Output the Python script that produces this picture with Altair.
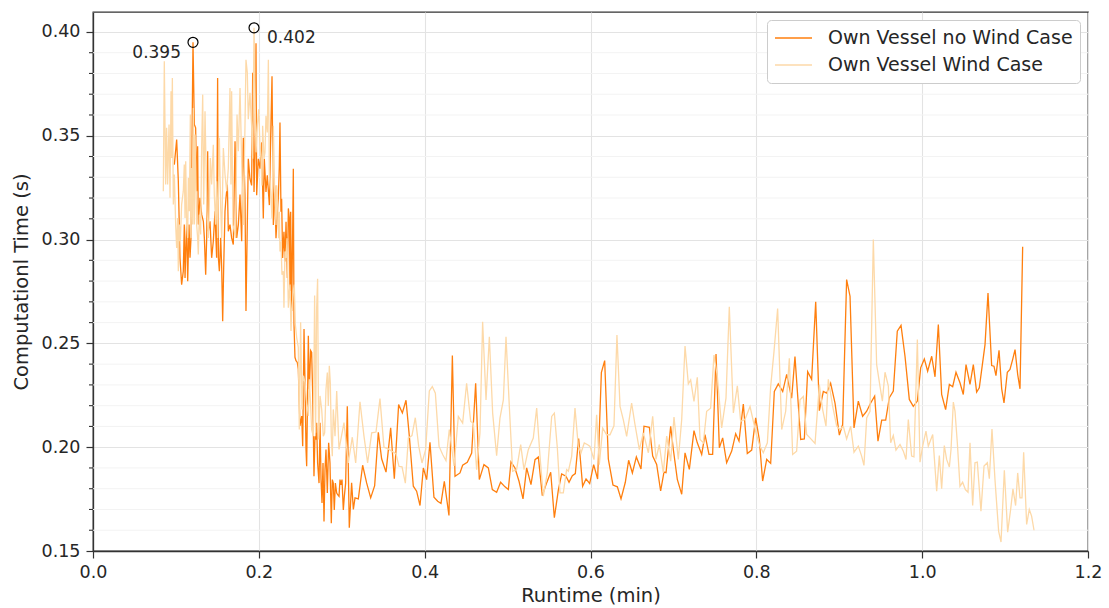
import altair as alt
import pandas as pd

NW = "Own Vessel no Wind Case"
WD = "Own Vessel Wind Case"

# ---- Own Vessel no Wind Case (runtime in min, computational time in s)
nw_x = [
    0.0981, 0.1009, 0.1029, 0.1049, 0.1069, 0.1089, 0.1101, 0.1110, 0.1130, 0.1142,
    0.1158, 0.1170, 0.1182, 0.1198, 0.1206, 0.1222, 0.1238, 0.1250, 0.1262, 0.1270,
    0.1290, 0.1311, 0.1331, 0.1343, 0.1359, 0.1371, 0.1383, 0.1391, 0.1411, 0.1431,
    0.1451, 0.1471, 0.1491, 0.1503, 0.1512, 0.1524, 0.1540, 0.1552, 0.1564, 0.1576,
    0.1592, 0.1604, 0.1620, 0.1632, 0.1652, 0.1672, 0.1692, 0.1713, 0.1733, 0.1753,
    0.1773, 0.1793, 0.1813,
    0.1833, 0.1845, 0.1873, 0.1893, 0.1913, 0.1926, 0.1942, 0.1954, 0.1966, 0.1974,
    0.1994, 0.2014, 0.2034, 0.2054, 0.2066, 0.2086, 0.2102, 0.2127, 0.2143, 0.2159,
    0.2175, 0.2191, 0.2207, 0.2223, 0.2235, 0.2247, 0.2255, 0.2267, 0.2275, 0.2287,
    0.2303, 0.2315, 0.2328, 0.2344, 0.2356, 0.2368, 0.2376, 0.2384, 0.2396, 0.2408,
    0.2416, 0.2424, 0.2436, 0.2448,
    0.2464, 0.2476, 0.2496, 0.2517, 0.2529, 0.2545, 0.2557, 0.2569, 0.2577, 0.2597,
    0.2609, 0.2625, 0.2637, 0.2649, 0.2657, 0.2665, 0.2677, 0.2689, 0.2697, 0.2709,
    0.2726, 0.2738, 0.2750, 0.2762, 0.2774, 0.2786, 0.2798, 0.2810, 0.2826, 0.2842,
    0.2858, 0.2874, 0.2886, 0.2898, 0.2910, 0.2923, 0.2939, 0.2951, 0.2967, 0.2979,
    0.2991, 0.3003, 0.3019, 0.3031, 0.3047,
    0.3067, 0.3091, 0.3119, 0.3140, 0.3160, 0.3200, 0.3252, 0.3300, 0.3349, 0.3397,
    0.3441, 0.3481, 0.3534, 0.3590, 0.3634, 0.3686, 0.3731, 0.3775, 0.3815, 0.3863,
    0.3903, 0.3944, 0.3984, 0.4024, 0.4064, 0.4112, 0.4157, 0.4197, 0.4237, 0.4293,
    0.4334,
    0.4366, 0.4426, 0.4458, 0.4514, 0.4567, 0.4615, 0.4659, 0.4715, 0.4768, 0.4816,
    0.4868, 0.4916, 0.4969, 0.5009, 0.5041, 0.5089, 0.5138, 0.5186, 0.5230, 0.5282,
    0.5331, 0.5371, 0.5419, 0.5471, 0.5520, 0.5564, 0.5612, 0.5652, 0.5704, 0.5741,
    0.5781, 0.5817, 0.5857, 0.5905, 0.5946, 0.5990, 0.6038, 0.6086, 0.6131, 0.6171,
    0.6215, 0.6271, 0.6324, 0.6368, 0.6420, 0.6460, 0.6505, 0.6553, 0.6609,
    0.6645, 0.6710, 0.6750, 0.6798, 0.6846, 0.6886, 0.6911, 0.6967, 0.6999, 0.7047,
    0.7100, 0.7140, 0.7192, 0.7248, 0.7288, 0.7341, 0.7381, 0.7429, 0.7473, 0.7514,
    0.7554, 0.7594, 0.7642, 0.7703, 0.7751, 0.7791, 0.7843, 0.7891, 0.7944, 0.7992,
    0.8036, 0.8076, 0.8125, 0.8173, 0.8217, 0.8265, 0.8318, 0.8366, 0.8426, 0.8466,
    0.8535, 0.8579, 0.8619, 0.8667, 0.8716, 0.8760, 0.8808, 0.8848, 0.8896, 0.8949,
    0.9001, 0.9041,
    0.9089, 0.9130, 0.9178, 0.9230, 0.9282, 0.9331, 0.9379, 0.9427, 0.9467, 0.9512,
    0.9560, 0.9604, 0.9652, 0.9700, 0.9745, 0.9793, 0.9845, 0.9893, 0.9942, 0.9982,
    1.0026, 1.0066, 1.0115, 1.0155, 1.0195, 1.0235, 1.0283, 1.0328, 1.0368, 1.0408,
    1.0456, 1.0496, 1.0529, 1.0577, 1.0617, 1.0657, 1.0689, 1.0758, 1.0794, 1.0838,
    1.0866, 1.0890, 1.0927, 1.0959, 1.0987, 1.1027, 1.1059, 1.1091, 1.1120, 1.1152,
    1.1180, 1.1212,
]
nw_y = [
    0.3361, 0.3482, 0.3281, 0.2912, 0.2783, 0.2848, 0.3072, 0.2815, 0.3088, 0.2799,
    0.3072, 0.2912, 0.3008, 0.3634, 0.3950, 0.3554, 0.3538, 0.3233, 0.3449, 0.3072,
    0.3201, 0.3120, 0.3088, 0.3008, 0.2831, 0.3008, 0.3425, 0.3040, 0.3088, 0.2912,
    0.2992, 0.3136, 0.2912, 0.3778, 0.2912, 0.2848, 0.3008, 0.2864, 0.2607, 0.2864,
    0.3136, 0.3201, 0.3265, 0.3040, 0.3072, 0.3008, 0.2976, 0.3474, 0.3008, 0.3072,
    0.3217, 0.2992, 0.3490,
    0.3213, 0.2656, 0.3389, 0.3293, 0.3261, 0.3803, 0.3229, 0.3420, 0.3946, 0.3213,
    0.3389, 0.3341, 0.3468, 0.3102, 0.3389, 0.3229, 0.3309, 0.3166, 0.3500, 0.3787,
    0.3070, 0.3261, 0.3006, 0.3134, 0.3197, 0.3357, 0.3564, 0.3134, 0.3197, 0.2911,
    0.3038, 0.2895, 0.3086, 0.2815, 0.3150, 0.3102, 0.2752, 0.3134, 0.2656, 0.3038,
    0.3341, 0.2592, 0.2433, 0.2417,
    0.2408, 0.2376, 0.2102, 0.2150, 0.2005, 0.2569, 0.2311, 0.1989, 0.1908, 0.2537,
    0.2279, 0.2465, 0.2456, 0.2263, 0.2085, 0.1860, 0.2053, 0.2037, 0.2118, 0.1924,
    0.1827, 0.2118, 0.1844, 0.1731, 0.1924, 0.1642, 0.1892, 0.1989, 0.1779, 0.2021,
    0.1924, 0.1634, 0.1844, 0.1827, 0.1698, 0.1827, 0.1779, 0.1771, 0.1763, 0.1844,
    0.1819, 0.1844, 0.1698, 0.1763, 0.1827,
    0.2197, 0.1612, 0.1828, 0.1700, 0.1756, 0.1751, 0.1913, 0.1828, 0.1756, 0.1815,
    0.2072, 0.1944, 0.1880, 0.2093, 0.1848, 0.2205, 0.2165, 0.2226, 0.2053, 0.1812,
    0.1788, 0.1719, 0.1900, 0.1844, 0.2024, 0.1759, 0.1740, 0.1729, 0.1836, 0.1671,
    0.2441,
    0.1860, 0.1876, 0.1913, 0.1927, 0.1972, 0.2308, 0.1844, 0.1916, 0.1900, 0.1796,
    0.1783, 0.1831, 0.1809, 0.1796, 0.1929, 0.1900, 0.1836, 0.1751, 0.1900, 0.1820,
    0.1940, 0.1953, 0.1767, 0.1828, 0.1879, 0.1660, 0.1793, 0.1871, 0.1860, 0.1831,
    0.1863, 0.1873, 0.2042, 0.1812, 0.1847, 0.1825, 0.1916, 0.1847, 0.2359, 0.2417,
    0.1943, 0.1818, 0.1809, 0.1751, 0.1831, 0.1937, 0.1876, 0.1953, 0.1895,
    0.2101, 0.2096, 0.1957, 0.1917, 0.1789, 0.1880, 0.1877, 0.2101, 0.1989, 0.1845,
    0.1773, 0.1973, 0.1893, 0.2080, 0.2021, 0.1965, 0.2061, 0.1965, 0.1965, 0.2449,
    0.1997, 0.2045, 0.1925, 0.1981, 0.2065, 0.2029, 0.2208, 0.1970, 0.1986, 0.2141,
    0.2037, 0.1837, 0.1941, 0.1922, 0.2268, 0.2305, 0.2268, 0.2351, 0.2236, 0.2436,
    0.2037, 0.2040, 0.2364, 0.2327, 0.2700, 0.2176, 0.2268, 0.2260, 0.2308, 0.2212,
    0.2058, 0.2109,
    0.2807, 0.2727, 0.2093, 0.2222, 0.2149, 0.2173, 0.2213, 0.2246, 0.2029, 0.2130,
    0.2130, 0.2238, 0.2270, 0.2559, 0.2587, 0.2438, 0.2230, 0.2197, 0.2222, 0.2382,
    0.2425, 0.2366, 0.2438, 0.2339, 0.2591, 0.2254, 0.2181, 0.2302, 0.2291, 0.2361,
    0.2310, 0.2254, 0.2398, 0.2302, 0.2398, 0.2265, 0.2286, 0.2494, 0.2743, 0.2393,
    0.2390, 0.2345, 0.2467, 0.2281, 0.2213, 0.2361, 0.2374, 0.2422, 0.2470, 0.2350,
    0.2281, 0.2965,
]

# ---- Own Vessel Wind Case
wd_x = [
    0.0848, 0.0860, 0.0876, 0.0888, 0.0900, 0.0917, 0.0929, 0.0941, 0.0949, 0.0957,
    0.0969, 0.0981, 0.0997, 0.1009, 0.1021, 0.1029, 0.1041, 0.1053, 0.1069, 0.1089,
    0.1101, 0.1110, 0.1118, 0.1130, 0.1142, 0.1150, 0.1162, 0.1174, 0.1182, 0.1190,
    0.1202, 0.1210, 0.1222, 0.1230, 0.1238, 0.1250, 0.1262, 0.1270, 0.1282, 0.1298,
    0.1311, 0.1323, 0.1335, 0.1351, 0.1363, 0.1375, 0.1391, 0.1403, 0.1415, 0.1431,
    0.1451, 0.1463, 0.1479, 0.1491, 0.1503, 0.1524, 0.1540, 0.1552, 0.1572, 0.1592,
    0.1612, 0.1632, 0.1652, 0.1664, 0.1672, 0.1688, 0.1704, 0.1720, 0.1737, 0.1753,
    0.1773, 0.1793,
    0.1813, 0.1833, 0.1845, 0.1861, 0.1873, 0.1893, 0.1913, 0.1926, 0.1942, 0.1954,
    0.1966, 0.1982, 0.1998, 0.2014, 0.2026, 0.2038, 0.2046, 0.2062, 0.2074, 0.2086,
    0.2102, 0.2115, 0.2127, 0.2143, 0.2159, 0.2175, 0.2191, 0.2207, 0.2215, 0.2223,
    0.2239, 0.2247, 0.2255, 0.2267, 0.2279, 0.2295, 0.2303, 0.2315, 0.2328, 0.2340,
    0.2356, 0.2368, 0.2376, 0.2388, 0.2396, 0.2416, 0.2428, 0.2440, 0.2456, 0.2476,
    0.2488, 0.2504, 0.2521, 0.2537, 0.2557, 0.2577, 0.2597, 0.2609, 0.2625, 0.2637,
    0.2657, 0.2673, 0.2685, 0.2697, 0.2709, 0.2721, 0.2738, 0.2758, 0.2778, 0.2794,
    0.2810, 0.2826, 0.2838, 0.2850, 0.2862, 0.2874, 0.2886, 0.2898, 0.2919, 0.2939,
    0.2967, 0.3027, 0.3079, 0.3127, 0.3168, 0.3220, 0.3268, 0.3312, 0.3361, 0.3413,
    0.3461, 0.3509, 0.3562, 0.3602, 0.3654, 0.3690, 0.3727, 0.3767, 0.3803, 0.3847,
    0.3887, 0.3928, 0.3968, 0.4012, 0.4056, 0.4092, 0.4129, 0.4173, 0.4217, 0.4257,
    0.4297,
    0.4354, 0.4406, 0.4458, 0.4506, 0.4555, 0.4587, 0.4627, 0.4667, 0.4699, 0.4740,
    0.4780, 0.4820, 0.4868, 0.4908, 0.4949, 0.4981, 0.5021, 0.5061, 0.5109, 0.5158,
    0.5198, 0.5250, 0.5310, 0.5351, 0.5391, 0.5431, 0.5479, 0.5532, 0.5564, 0.5600,
    0.5632, 0.5672, 0.5712, 0.5733, 0.5773, 0.5813, 0.5853, 0.5885, 0.5925, 0.5966,
    0.5994, 0.6042, 0.6074, 0.6106, 0.6147, 0.6195, 0.6235, 0.6283, 0.6319, 0.6356,
    0.6396, 0.6436, 0.6496, 0.6537, 0.6589,
    0.6637, 0.6698, 0.6750, 0.6790, 0.6830, 0.6878, 0.6919, 0.6967, 0.7007, 0.7059,
    0.7100, 0.7140, 0.7180, 0.7208, 0.7248, 0.7288, 0.7321, 0.7361, 0.7401, 0.7449,
    0.7489, 0.7530, 0.7582, 0.7634, 0.7674, 0.7723, 0.7771, 0.7811, 0.7863, 0.7924,
    0.7964, 0.8004, 0.8044, 0.8084, 0.8133, 0.8173, 0.8213, 0.8257, 0.8306, 0.8354,
    0.8398, 0.8438, 0.8486, 0.8527, 0.8567, 0.8607, 0.8647, 0.8708, 0.8760, 0.8800,
    0.8840, 0.8868, 0.8921, 0.8969,
    0.9009, 0.9049, 0.9089, 0.9138, 0.9178, 0.9230, 0.9270, 0.9298, 0.9331, 0.9371,
    0.9411, 0.9451, 0.9491, 0.9520, 0.9552, 0.9592, 0.9620, 0.9652, 0.9684, 0.9733,
    0.9773, 0.9805, 0.9833, 0.9873, 0.9901, 0.9942, 0.9974, 1.0006, 1.0046, 1.0074,
    1.0127, 1.0175, 1.0207, 1.0235, 1.0267, 1.0295, 1.0328, 1.0348, 1.0376, 1.0396,
    1.0424, 1.0456, 1.0488, 1.0521, 1.0553, 1.0577, 1.0609, 1.0637, 1.0665, 1.0709,
    1.0746, 1.0786, 1.0810, 1.0842, 1.0878, 1.0922, 1.0951, 1.0991, 1.1031, 1.1067,
    1.1095, 1.1127, 1.1152, 1.1180, 1.1204, 1.1224, 1.1260, 1.1292, 1.1320, 1.1349,
]
wd_y = [
    0.3233, 0.3859, 0.3265, 0.3538, 0.3265, 0.3554, 0.3201, 0.3714, 0.3393, 0.3778,
    0.3169, 0.3313, 0.3072, 0.2960, 0.3104, 0.2848, 0.3072, 0.2992, 0.3169, 0.3233,
    0.3361, 0.3104, 0.3377, 0.3072, 0.3008, 0.3297, 0.3136, 0.3602, 0.3008, 0.3345,
    0.3072, 0.3634, 0.3072, 0.3506, 0.3361, 0.3072, 0.3008, 0.2928, 0.3120, 0.3024,
    0.3457, 0.3698, 0.3169, 0.3618, 0.3361, 0.3136, 0.3008, 0.3169, 0.3393, 0.3265,
    0.3457, 0.3217, 0.3072, 0.3281, 0.3008, 0.3490, 0.3152, 0.3008, 0.3441, 0.3313,
    0.3233, 0.3345, 0.3730, 0.3265, 0.3714, 0.3072, 0.3040, 0.3008, 0.3602, 0.3425,
    0.3730, 0.3377,
    0.3070, 0.3548, 0.3866, 0.3803, 0.3580, 0.3707, 0.3548, 0.3389, 0.4020, 0.3707,
    0.3420, 0.3548, 0.3627, 0.3452, 0.3389, 0.3261, 0.3548, 0.3389, 0.3420, 0.3596,
    0.3516, 0.3866, 0.3309, 0.3229, 0.3102, 0.3548, 0.3229, 0.3070, 0.3261, 0.3229,
    0.3006, 0.3134, 0.2943, 0.2990, 0.2831, 0.2847, 0.2672, 0.2943, 0.2911, 0.3006,
    0.2672, 0.2752, 0.2783, 0.2560, 0.2656, 0.2752, 0.2783, 0.2592, 0.2529, 0.2481,
    0.2085, 0.2602, 0.2182, 0.2344, 0.2311, 0.2215, 0.2150, 0.2327, 0.2198, 0.2085,
    0.2053, 0.2731, 0.2069, 0.2666, 0.2811, 0.2037, 0.2247, 0.2182, 0.2053, 0.2069,
    0.2279, 0.2360, 0.2198, 0.2392, 0.2311, 0.2053, 0.1956, 0.2182, 0.2053, 0.2271,
    0.1989, 0.2118, 0.1924, 0.2048, 0.1924, 0.2219, 0.2053, 0.1924, 0.2069, 0.2073,
    0.2234, 0.2000, 0.1992, 0.1981, 0.1969, 0.1908, 0.1905, 0.1827, 0.2045, 0.2056,
    0.2142, 0.2005, 0.1924, 0.1989, 0.2271, 0.2292, 0.2260, 0.2005, 0.1965, 0.1935,
    0.2085,
    0.1910, 0.2148, 0.2116, 0.2308, 0.2124, 0.2116, 0.1892, 0.2068, 0.2604, 0.2228,
    0.2532, 0.2164, 0.1959, 0.2140, 0.2228, 0.2532, 0.2196, 0.1884, 0.1892, 0.2012,
    0.1892, 0.1988, 0.2044, 0.2188, 0.1956, 0.1764, 0.1876, 0.2148, 0.2164, 0.1996,
    0.1780, 0.1780, 0.1892, 0.1884, 0.1956, 0.2188, 0.2004, 0.1972, 0.2020, 0.2012,
    0.2004, 0.1940, 0.2156, 0.1916, 0.2092, 0.2060, 0.2060, 0.2103, 0.2540, 0.2196,
    0.2132, 0.2052, 0.2212, 0.2108, 0.1988,
    0.2069, 0.1973, 0.2149, 0.1941, 0.2013, 0.1877, 0.2053, 0.1933, 0.2145, 0.1941,
    0.2133, 0.2487, 0.2305, 0.2324, 0.2220, 0.2337, 0.2037, 0.2021, 0.2173, 0.2188,
    0.2444, 0.2340, 0.2093, 0.2236, 0.2676, 0.2165, 0.2296, 0.2125, 0.2133, 0.2196,
    0.2125, 0.2056, 0.2005, 0.1973, 0.2021, 0.2292, 0.2460, 0.2668, 0.2085, 0.2173,
    0.2428, 0.1965, 0.1981, 0.2228, 0.2244, 0.2061, 0.2045, 0.2018, 0.2300, 0.2181,
    0.2101, 0.2327, 0.2196, 0.2101,
    0.2085, 0.2101, 0.2040, 0.2101, 0.1976, 0.2005, 0.1957, 0.1912, 0.2141, 0.2173,
    0.3000, 0.2398, 0.2294, 0.2222, 0.2361, 0.2294, 0.2021, 0.2056, 0.1986, 0.2013,
    0.1981, 0.1941, 0.2133, 0.1957, 0.1953, 0.2518, 0.1928, 0.2005, 0.2077, 0.2005,
    0.2061, 0.1788, 0.1960, 0.1800, 0.2008, 0.1941, 0.1905, 0.1989, 0.2217, 0.2173,
    0.2021, 0.1812, 0.1831, 0.1796, 0.1783, 0.2021, 0.1719, 0.1925, 0.1928, 0.1692,
    0.1909, 0.1925, 0.1848, 0.2088, 0.1844, 0.1596, 0.1543, 0.1889, 0.1591, 0.1700,
    0.1799, 0.1719, 0.1876, 0.1756, 0.1756, 0.1976, 0.1628, 0.1700, 0.1668, 0.1600,
]

# ---- annotated maxima
ann_x = [0.1206, 0.1942]
ann_y = [0.395, 0.402]
ann_text = ["0.395", "0.402"]

# ---- axis ticks
x_ticks = [0.0, 0.2, 0.4, 0.6, 0.8, 1.0, 1.2]
y_major = [0.15, 0.20, 0.25, 0.30, 0.35, 0.40]
y_minor = [0.16, 0.17, 0.18, 0.19, 0.21, 0.22, 0.23, 0.24, 0.26, 0.27, 0.28, 0.29,
           0.31, 0.32, 0.33, 0.34, 0.36, 0.37, 0.38, 0.39]

FONT = "DejaVu Sans"
ORANGE = "#ff7f0e"
LIGHT = "#fdd9a8"
TXT = "#262626"
DARK = "#333333"

df_nw = pd.DataFrame({"runtime": nw_x, "ctime": nw_y, "case": NW})
df_wd = pd.DataFrame({"runtime": wd_x, "ctime": wd_y, "case": WD})
df_ann = pd.DataFrame({"runtime": ann_x, "ctime": ann_y, "label": ann_text})
df_minor = pd.DataFrame({"ctime": y_minor})

xs = alt.Scale(domain=[0, 1.2], nice=False, zero=False)
ys = alt.Scale(domain=[0.15, 0.4096], nice=False, zero=False)

x_enc = alt.X(
    "runtime:Q", scale=xs, title="Runtime (min)",
    axis=alt.Axis(values=x_ticks, format=".1f", tickSize=7, grid=True,
                  gridColor="#e3e3e3", gridWidth=1.1, labelFlush=False,
                  labelPadding=5, titlePadding=6),
)
y_enc = alt.Y(
    "ctime:Q", scale=ys, title="Computationl Time (s)",
    axis=alt.Axis(values=y_major, format=".2f", tickSize=7, grid=True,
                  gridColor="#e3e3e3", gridWidth=1.1, labelPadding=6,
                  titlePadding=10, labelOverlap=False),
)

color = alt.Color(
    "case:N",
    scale=alt.Scale(domain=[NW, WD], range=[ORANGE, LIGHT]),
    legend=alt.Legend(
        title=None, orient="top-right", offset=8, padding=7,
        strokeColor="#cccccc", cornerRadius=4, fillColor="white",
        symbolType="stroke", symbolSize=1369, symbolStrokeWidth=1.6,
        clipHeight=22, rowPadding=5, labelFontSize=19, labelFont=FONT,
        labelColor=TXT, labelLimit=400, labelOffset=15,
    ),
)

# minor horizontal grid lines and minor ticks
minor_grid = alt.Chart(df_minor).mark_rule(color="#f3f3f3", strokeWidth=1.0).encode(
    y=alt.Y("ctime:Q", scale=ys), x=alt.value(0), x2=alt.value(995))
minor_tick = alt.Chart(df_minor).mark_rule(color=DARK, strokeWidth=1.1).encode(
    y=alt.Y("ctime:Q", scale=ys), x=alt.value(-4), x2=alt.value(0))

line_nw = alt.Chart(df_nw).mark_line(strokeWidth=1.3).encode(x=x_enc, y=y_enc, color=color)
line_wd = alt.Chart(df_wd).mark_line(strokeWidth=1.3).encode(x=x_enc, y=y_enc, color=color)

pts = alt.Chart(df_ann).mark_point(shape="circle", filled=False, color="black",
                                   size=100, strokeWidth=1.2, opacity=1).encode(
    x=alt.X("runtime:Q", scale=xs), y=alt.Y("ctime:Q", scale=ys))

txt1 = alt.Chart(df_ann).transform_filter(alt.datum.label == "0.395").mark_text(
    align="right", baseline="middle", dx=-12, dy=11, fontSize=17, font=FONT,
    color=TXT).encode(
    x=alt.X("runtime:Q", scale=xs), y=alt.Y("ctime:Q", scale=ys), text="label:N")
txt2 = alt.Chart(df_ann).transform_filter(alt.datum.label == "0.402").mark_text(
    align="left", baseline="middle", dx=13, dy=10, fontSize=17, font=FONT,
    color=TXT).encode(
    x=alt.X("runtime:Q", scale=xs), y=alt.Y("ctime:Q", scale=ys), text="label:N")

chart = alt.layer(minor_grid, minor_tick, line_nw, line_wd, pts, txt1, txt2).properties(
    width=995, height=539,
    autosize=alt.AutoSizeParams(type="none"),
    padding={"left": 93, "top": 12, "right": 21, "bottom": 57},
).configure(
    font=FONT,
).configure_view(
    stroke=DARK, strokeWidth=1.3,
).configure_axis(
    labelFont=FONT, titleFont=FONT, labelFontSize=17.5, titleFontSize=19.5,
    labelColor=TXT, titleColor=TXT, titleFontWeight="normal",
    domainColor=DARK, domainWidth=1.3, tickColor=DARK, tickWidth=1.2,
)

chart.save("out.html", embed_options={"renderer": "svg", "actions": False})
